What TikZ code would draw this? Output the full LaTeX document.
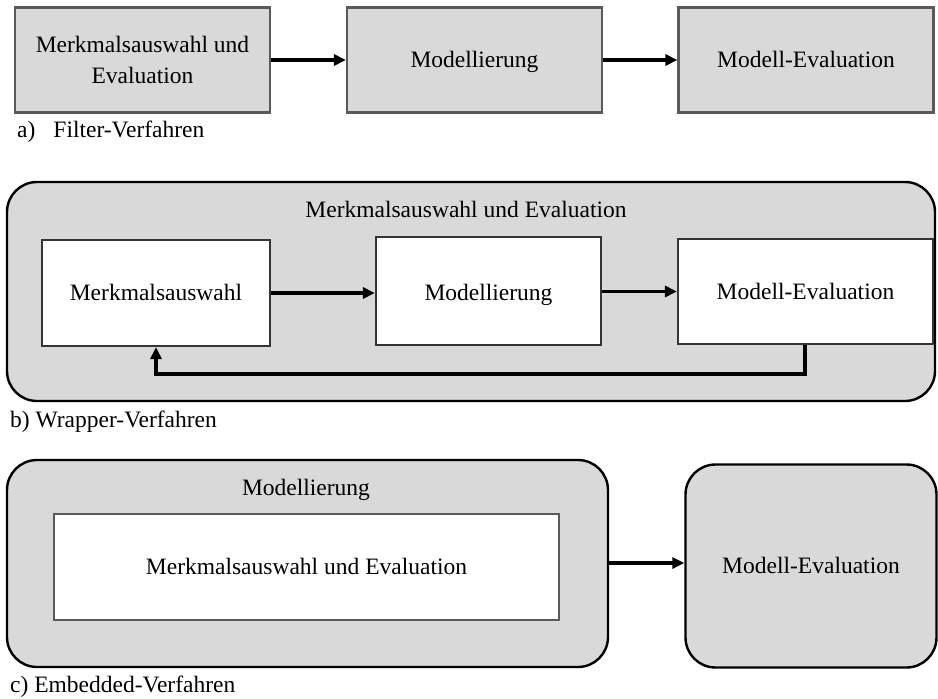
\documentclass[tikz,border=0pt]{standalone}
\usepackage{fontspec}
\setmainfont{Liberation Serif}
\usetikzlibrary{arrows.meta}
\definecolor{boxgray}{HTML}{D9D9D9}
\definecolor{edgegray}{HTML}{595959}
\tikzset{
  oneline/.style={text height=19pt, text depth=4pt},
  stagebox/.style={draw=edgegray, line width=2.2pt, fill=boxgray, inner sep=0pt, align=center},
  innerbox/.style={draw=edgegray!60!black, line width=2.2pt, fill=white, inner sep=0pt, align=center, oneline},
  roundbox/.style={draw=black, line width=2.4pt, fill=boxgray, rounded corners=30pt},
  arr/.style={line width=3.4pt, -{Triangle[length=12pt,width=11pt]}},
  caption/.style={anchor=base west, inner sep=0pt},
}
\begin{document}
\begin{tikzpicture}[x=1pt, y=-1pt, font=\fontsize{23.5}{31}\selectfont]
\useasboundingbox (0,0) rectangle (938,699);

% a) filter approach
\node[stagebox, minimum width=255pt, minimum height=105pt] (fa) at (142.5,60) {Merkmalsauswahl und\\Evaluation};
\node[stagebox, oneline, minimum width=255pt, minimum height=105pt] (fb) at (474.5,60) {Modellierung};
\node[stagebox, oneline, minimum width=255pt, minimum height=105pt] (fc) at (806,60) {Modell-Evaluation};
\draw[arr] (fa) -- (fb);
\draw[arr] (fb) -- (fc);
\node[caption] (capa) at (17,137) {a)\hspace{18pt}Filter-Verfahren};

% b) wrapper approach
\draw[roundbox] (7,182) rectangle (935,401);
\node[oneline, inner sep=0pt] (wtitle) at (466,210) {Merkmalsauswahl und Evaluation};
\node[innerbox, minimum width=228pt, minimum height=106pt] (wa) at (156,293) {Merkmalsauswahl};
\node[innerbox, text height=23pt, minimum width=225pt, minimum height=108pt] (wb) at (488.5,291) {Modellierung};
\node[innerbox, minimum width=255pt, minimum height=105pt] (wc) at (805.5,291.5) {Modell-Evaluation};
\draw[arr] (wa.east |- wa) -- (wb.west |- wa);
\draw[arr] (wb.east |- wc) -- (wc.west |- wc);
\coordinate (fbR) at (805,374);
\coordinate (fbL) at (156,374);
\draw[arr] (wc.south -| fbR) -- (fbR) -- (fbL) -- (wa.south -| fbL);
\node[caption] (capb) at (10,427) {b) Wrapper-Verfahren};

% c) embedded approach
\draw[roundbox] (7,460) rectangle (608,667);
\coordinate (eright) at (608,563);
\node[oneline, inner sep=0pt] (etitle) at (306,488) {Modellierung};
\node[innerbox, draw=edgegray, minimum width=505pt, minimum height=106pt] (ea) at (306.5,567) {Merkmalsauswahl und Evaluation};
\node[roundbox, oneline, minimum width=251pt, minimum height=203pt] (eb) at (811,566) {Modell-Evaluation};
\draw[arr] (eright) -- (eb.west |- eright);
\node[caption] (capc) at (10,692) {c) Embedded-Verfahren};
\end{tikzpicture}
\end{document}
